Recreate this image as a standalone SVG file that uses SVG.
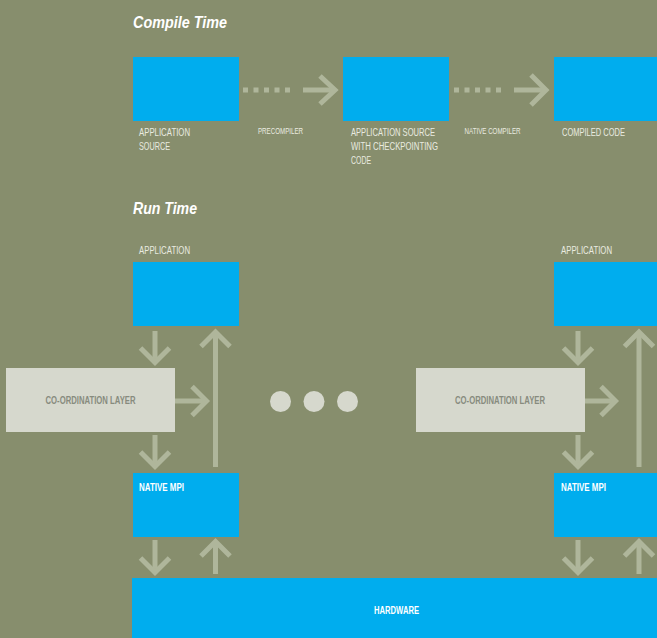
<svg xmlns="http://www.w3.org/2000/svg" width="657" height="638" viewBox="0 0 657 638">
<style>
.bg{fill:#878E6D}
.blue{fill:#00ADEE}
.gray{fill:#D6D8CD}
.arr{fill:none;stroke:#AFB69B;stroke-width:5;stroke-linecap:butt;stroke-linejoin:miter}
.dash{stroke-dasharray:5 5.5}
.title{font-family:"Liberation Sans",Arial,sans-serif;font-weight:bold;font-style:italic;font-size:16.5px;fill:#FFFFFF}
.lbl{font-family:"Liberation Sans",Arial,sans-serif;font-size:11px;fill:#E9EBE0}
.sm{font-family:"Liberation Sans",Arial,sans-serif;font-size:8.5px;fill:#E9EBE0}
.bw{font-family:"Liberation Sans",Arial,sans-serif;font-weight:bold;font-size:10px;fill:#FFFFFF}
.bg2{font-family:"Liberation Sans",Arial,sans-serif;font-weight:bold;font-size:10px;fill:#878B7E}
</style>
<rect class="bg" x="0" y="0" width="657" height="638"/>
<text class="title" transform="translate(133,28) scale(0.85,1)" textLength="110.6" lengthAdjust="spacingAndGlyphs">Compile Time</text>
<text class="title" transform="translate(133,214) scale(0.85,1)" textLength="75.3" lengthAdjust="spacingAndGlyphs">Run Time</text>

<g id="app-source">
<rect class="blue" x="133" y="57" width="106" height="64"/>
<text class="lbl" transform="translate(139,136) scale(0.7,1)" textLength="72.9" lengthAdjust="spacingAndGlyphs">APPLICATION</text>
<text class="lbl" transform="translate(139,150) scale(0.7,1)" textLength="44.3" lengthAdjust="spacingAndGlyphs">SOURCE</text>
</g>
<g id="app-source-ckpt">
<rect class="blue" x="343" y="57" width="106" height="64"/>
<text class="lbl" transform="translate(351,136) scale(0.7,1)" textLength="120" lengthAdjust="spacingAndGlyphs">APPLICATION SOURCE</text>
<text class="lbl" transform="translate(351,150) scale(0.7,1)" textLength="124.3" lengthAdjust="spacingAndGlyphs">WITH CHECKPOINTING</text>
<text class="lbl" transform="translate(351,164) scale(0.7,1)" textLength="28.6" lengthAdjust="spacingAndGlyphs">CODE</text>
</g>
<g id="compiled-code">
<rect class="blue" x="554" y="57" width="103" height="64"/>
<text class="lbl" transform="translate(562,136) scale(0.7,1)" textLength="90" lengthAdjust="spacingAndGlyphs">COMPILED CODE</text>
</g>

<g id="app-left">
<text class="lbl" transform="translate(139,254) scale(0.7,1)" textLength="72.9" lengthAdjust="spacingAndGlyphs">APPLICATION</text>
<rect class="blue" x="133" y="262" width="106" height="64"/>
</g>
<g id="app-right">
<text class="lbl" transform="translate(561,254) scale(0.7,1)" textLength="72.9" lengthAdjust="spacingAndGlyphs">APPLICATION</text>
<rect class="blue" x="554" y="262" width="103" height="64"/>
</g>
<g id="coord-left">
<rect class="gray" x="6" y="368" width="169" height="64"/>
<text class="bg2" transform="translate(90.5,404) scale(0.7,1)" text-anchor="middle" textLength="128.6" lengthAdjust="spacingAndGlyphs">CO-ORDINATION LAYER</text>
</g>
<g id="coord-right">
<rect class="gray" x="416" y="368" width="169" height="64"/>
<text class="bg2" transform="translate(500,404) scale(0.7,1)" text-anchor="middle" textLength="128.6" lengthAdjust="spacingAndGlyphs">CO-ORDINATION LAYER</text>
</g>
<g id="mpi-left">
<rect class="blue" x="133" y="473" width="106" height="64"/>
<text class="bw" transform="translate(139,491) scale(0.7,1)" textLength="64.3" lengthAdjust="spacingAndGlyphs">NATIVE MPI</text>
</g>
<g id="mpi-right">
<rect class="blue" x="554" y="473" width="103" height="64"/>
<text class="bw" transform="translate(561,491) scale(0.7,1)" textLength="64.3" lengthAdjust="spacingAndGlyphs">NATIVE MPI</text>
</g>
<g id="hardware">
<rect class="blue" x="132" y="578" width="525" height="60"/>
<text class="bw" transform="translate(396.5,614) scale(0.7,1)" text-anchor="middle" textLength="64.3" lengthAdjust="spacingAndGlyphs">HARDWARE</text>
</g>
<g id="ellipsis">
<circle class="gray" cx="280.5" cy="401.5" r="10.5"/>
<circle class="gray" cx="314" cy="401.5" r="10.5"/>
<circle class="gray" cx="347.5" cy="401.5" r="10.5"/>
</g>

<g id="connectors">
<line class="arr dash" x1="243" y1="90" x2="294" y2="90"/>
<line class="arr" x1="303" y1="90" x2="335" y2="90"/>
<polyline class="arr" points="320,76 335,90 320,104"/>
<text class="sm" transform="translate(258,133.5) scale(0.7,1)" textLength="64.3" lengthAdjust="spacingAndGlyphs">PRECOMPILER</text>
<line class="arr dash" x1="454" y1="90" x2="505" y2="90"/>
<line class="arr" x1="514" y1="90" x2="546" y2="90"/>
<polyline class="arr" points="531,75 546,90 531,105"/>
<text class="sm" transform="translate(464.5,133.5) scale(0.7,1)" textLength="80" lengthAdjust="spacingAndGlyphs">NATIVE COMPILER</text>

<line class="arr" x1="155" y1="331" x2="155" y2="362"/>
<polyline class="arr" points="140.5,348 155,362.5 169.5,348"/>
<line class="arr" x1="175" y1="401" x2="206" y2="401"/>
<polyline class="arr" points="192,386.5 206.5,401 192,415.5"/>
<line class="arr" x1="215.5" y1="467" x2="215.5" y2="333"/>
<polyline class="arr" points="201,346.5 215.5,332 230,346.5"/>
<line class="arr" x1="155" y1="435" x2="155" y2="466"/>
<polyline class="arr" points="140.5,452 155,466.5 169.5,452"/>
<line class="arr" x1="155" y1="540" x2="155" y2="572"/>
<polyline class="arr" points="140.5,558 155,572.5 169.5,558"/>
<line class="arr" x1="215.5" y1="574" x2="215.5" y2="542"/>
<polyline class="arr" points="201,556 215.5,541.5 230,556"/>

<line class="arr" x1="578" y1="331" x2="578" y2="362"/>
<polyline class="arr" points="563.5,348 578,362.5 592.5,348"/>
<line class="arr" x1="585" y1="401" x2="615" y2="401"/>
<polyline class="arr" points="601,386.5 615.5,401 601,415.5"/>
<line class="arr" x1="639" y1="467" x2="639" y2="333"/>
<polyline class="arr" points="624.5,346.5 639,332 653.5,346.5"/>
<line class="arr" x1="578" y1="435" x2="578" y2="466"/>
<polyline class="arr" points="563.5,452 578,466.5 592.5,452"/>
<line class="arr" x1="578" y1="540" x2="578" y2="572"/>
<polyline class="arr" points="563.5,558 578,572.5 592.5,558"/>
<line class="arr" x1="639" y1="574" x2="639" y2="542"/>
<polyline class="arr" points="624.5,556 639,541.5 653.5,556"/>
</g>
</svg>
